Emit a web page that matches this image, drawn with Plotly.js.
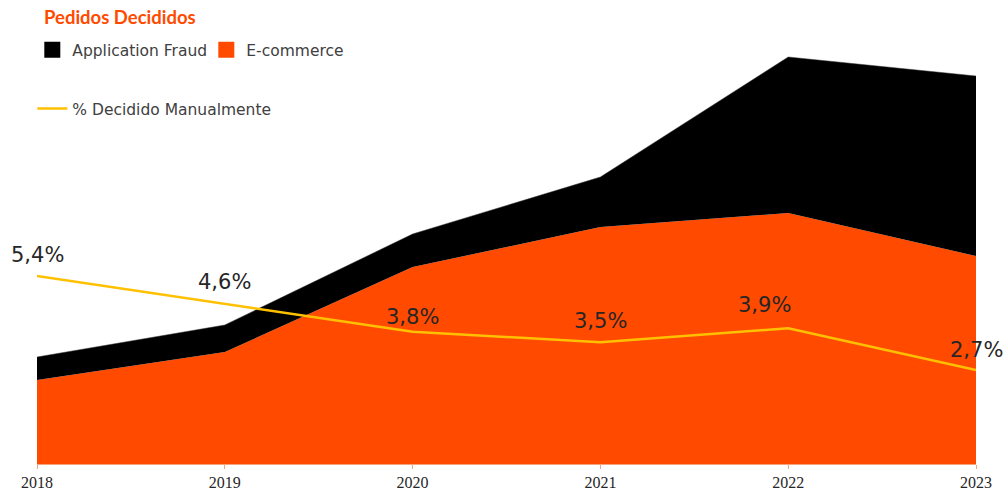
<!DOCTYPE html>
<html>
<head>
<meta charset="utf-8">
<script src="https://cdn.plot.ly/plotly-3.0.1.min.js"></script>
<style>html,body{margin:0;padding:0;background:#fff;}#chart{width:1006px;height:491px;}</style>
</head>
<body>
<div id="chart"></div>
<script>
const years = [2018, 2019, 2020, 2021, 2022, 2023];
const ecommerce = [84, 112, 197, 237, 251, 208];
const applicationFraud = [23, 27, 33, 50, 156, 180];
const pctManual = [5.4, 4.6, 3.8, 3.5, 3.9, 2.7];
const pctLabels = pctManual.map(v => v.toFixed(1).replace('.', ',') + '%');
const labelXShift = [0, 0, 0, 0, -24, 0];
const labelYShift = [21, 22, 15, 21, 23, 20];

const ORANGE = '#FF4A00';
const BLACK = '#000000';
const YELLOW = '#FFC000';

const traces = [
  {
    x: years, y: ecommerce, name: 'E-commerce', type: 'scatter', mode: 'lines',
    stackgroup: 'one', fillcolor: ORANGE, line: {width: 0, color: ORANGE},
    showlegend: false, hoverinfo: 'skip'
  },
  {
    x: years, y: applicationFraud, name: 'Application Fraud', type: 'scatter', mode: 'lines',
    stackgroup: 'one', fillcolor: BLACK, line: {width: 0.5, color: '#333'},
    showlegend: false, hoverinfo: 'skip'
  },
  {
    x: [null], y: [null], name: 'Application Fraud', type: 'scatter', mode: 'markers',
    marker: {symbol: 'square', size: 18, color: BLACK}, legend: 'legend', legendrank: 1
  },
  {
    x: [null], y: [null], name: 'E-commerce', type: 'scatter', mode: 'markers',
    marker: {symbol: 'square', size: 18, color: ORANGE}, legend: 'legend', legendrank: 2
  },
  {
    x: years, y: pctManual, name: '% Decidido Manualmente', type: 'scatter', mode: 'lines',
    yaxis: 'y2', line: {color: YELLOW, width: 2.5},
    legend: 'legend2'
  }
];

const annotations = years.map((yr, i) => ({
  x: yr, y: pctManual[i], xref: 'x', yref: 'y2',
  text: pctLabels[i], showarrow: false,
  xanchor: 'center', yanchor: 'middle',
  xshift: labelXShift[i], yshift: labelYShift[i],
  font: {family: 'DejaVu Sans', size: 21, color: '#262626'}
}));

const layout = {
  width: 1006, height: 491,
  margin: {l: 37, r: 30, t: 44, b: 27},
  paper_bgcolor: '#fff', plot_bgcolor: '#fff',
  title: {
    text: '<b>Pedidos Decididos</b>',
    font: {family: 'Lato', size: 18.5, color: '#FF4B00'},
    x: 44/1006, xanchor: 'left', xref: 'container',
    y: 1 - 18/491, yanchor: 'middle', yref: 'container'
  },
  xaxis: {
    range: [2018, 2023], tickvals: years, ticktext: years.map(String),
    showgrid: false, zeroline: false, showline: true, linecolor: '#F6A27C', linewidth: 1,
    ticks: 'outside', ticklen: 4, tickcolor: '#F6A27C',
    tickfont: {family: 'Liberation Sans Narrow', size: 16, color: '#262626'}
  },
  yaxis: {range: [0, 420], visible: false, showgrid: false, fixedrange: true},
  yaxis2: {range: [0, 12.07], overlaying: 'y', visible: false, showgrid: false},
  annotations: annotations,
  legend: {
    orientation: 'h', x: -0.005, xanchor: 'left', y: 1.0255, yanchor: 'top',
    bgcolor: 'rgba(0,0,0,0)', font: {family: 'DejaVu Sans', size: 15.5, color: '#404040'},
    entrywidth: 129, entrywidthmode: 'pixels', traceorder: 'normal'
  },
  legend2: {
    orientation: 'h', x: -0.005, xanchor: 'left', y: 0.886, yanchor: 'top',
    bgcolor: 'rgba(0,0,0,0)', font: {family: 'DejaVu Sans', size: 15.5, color: '#404040'}
  },
  showlegend: true
};

Plotly.newPlot('chart', traces, layout, {displayModeBar: false, staticPlot: true});
</script>
</body>
</html>
